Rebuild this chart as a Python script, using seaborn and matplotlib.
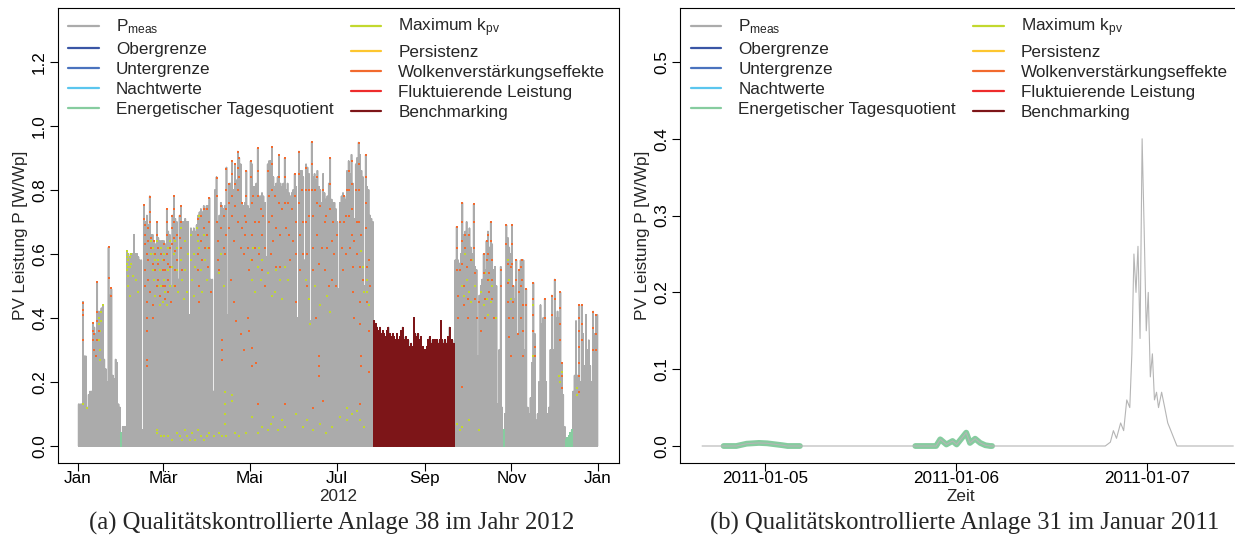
import numpy as np
import pandas as pd
import matplotlib
matplotlib.use("Agg")
import matplotlib.pyplot as plt
from matplotlib.lines import Line2D
import seaborn as sns

# ---------------------------------------------------------------------------
# (a) Anlage 38, 2012: daily maximum of the measured PV power [W/Wp]
# ---------------------------------------------------------------------------
jan = [0.13, 0.13, 0.13, 0.45, 0.28, 0.28, 0.12, 0.16, 0.17, 0.17, 0.38, 0.37, 0.35, 0.51, 0.42, 0.42,
       0.43, 0.44, 0.27, 0.24, 0.20, 0.62, 0.47, 0.49, 0.22, 0.21, 0.27, 0.26, 0.13, 0.12, 0.04]
feb = [0.06, 0.06, 0.06, 0.61, 0.60, 0.59, 0.60, 0.60, 0.66, 0.60, 0.60, 0.59, 0.58, 0.58, 0.05,
       0.75, 0.70, 0.72, 0.69, 0.78, 0.66, 0.66, 0.64, 0.63, 0.70, 0.65, 0.64, 0.64, 0.64]
mar = [0.64, 0.63, 0.74, 0.67, 0.66, 0.50, 0.72, 0.78, 0.71, 0.70, 0.52, 0.72, 0.75, 0.70, 0.70, 0.71,
       0.70, 0.70, 0.41, 0.68, 0.67, 0.68, 0.67, 0.69, 0.72, 0.73, 0.74, 0.73, 0.75, 0.74, 0.75]
apr = [0.75, 0.775, 0.52, 0.52, 0.17, 0.80, 0.84, 0.70, 0.72, 0.76, 0.75, 0.74, 0.75, 0.87, 0.41,
       0.82, 0.82, 0.89, 0.80, 0.88, 0.83, 0.92, 0.90, 0.88, 0.76, 0.75, 0.76, 0.86, 0.75, 0.74]
mai = [0.89, 0.88, 0.81, 0.81, 0.82, 0.93, 0.78, 0.78, 0.79, 0.78, 0.76, 0.59, 0.88, 0.89, 0.89, 0.935,
       0.84, 0.81, 0.82, 0.84, 0.91, 0.82, 0.81, 0.82, 0.90, 0.80, 0.82, 0.79, 0.78, 0.79, 0.80]
jun = [0.85, 0.81, 0.40, 0.92, 0.86, 0.86, 0.84, 0.58, 0.88, 0.87, 0.85, 0.39, 0.95, 0.84, 0.85,
       0.83, 0.86, 0.81, 0.80, 0.76, 0.85, 0.79, 0.77, 0.78, 0.82, 0.90, 0.77, 0.76, 0.76, 0.74]
jul = [0.70, 0.49, 0.76, 0.78, 0.79, 0.78, 0.77, 0.86, 0.89, 0.85, 0.91, 0.82, 0.71, 0.88, 0.90, 0.948,
       0.91, 0.86, 0.84, 0.50, 0.91, 0.81, 0.80, 0.72, 0.71, 0.70, 0.39, 0.38, 0.37, 0.36, 0.37]
aug = [0.35, 0.36, 0.35, 0.34, 0.36, 0.37, 0.35, 0.34, 0.35, 0.34, 0.33, 0.35, 0.33, 0.34, 0.36, 0.37,
       0.33, 0.34, 0.32, 0.33, 0.31, 0.32, 0.31, 0.40, 0.35, 0.34, 0.35, 0.33, 0.34, 0.31, 0.30]
sep = [0.30, 0.31, 0.33, 0.34, 0.32, 0.33, 0.32, 0.33, 0.33, 0.32, 0.33, 0.39, 0.33, 0.32, 0.33,
       0.32, 0.34, 0.37, 0.33, 0.33, 0.32, 0.58, 0.685, 0.58, 0.57, 0.60, 0.76, 0.66, 0.67, 0.70]
okt = [0.66, 0.68, 0.62, 0.60, 0.755, 0.56, 0.55, 0.28, 0.47, 0.50, 0.52, 0.60, 0.55, 0.64, 0.67, 0.62,
       0.70, 0.63, 0.55, 0.56, 0.50, 0.13, 0.30, 0.56, 0.12, 0.05, 0.10, 0.69, 0.65, 0.62, 0.60]
nov = [0.69, 0.50, 0.46, 0.58, 0.35, 0.55, 0.58, 0.58, 0.58, 0.30, 0.49, 0.12, 0.10, 0.15, 0.26,
       0.51, 0.35, 0.08, 0.10, 0.20, 0.44, 0.38, 0.40, 0.46, 0.20, 0.10, 0.12, 0.30, 0.47, 0.30]
dez = [0.52, 0.40, 0.42, 0.40, 0.48, 0.26, 0.16, 0.06, 0.02, 0.025, 0.03, 0.04, 0.05, 0.17, 0.22, 0.39,
       0.22, 0.44, 0.20, 0.44, 0.35, 0.25, 0.41, 0.30, 0.33, 0.25, 0.20, 0.42, 0.35, 0.41, 0.41]

# days (index from 1 Jan) flagged by the daily energy quotient test
tagesquotient_tage = [30, 299, 343, 344, 345, 346, 347]
# period flagged by benchmarking
benchmark_von, benchmark_bis = 208, 264

# single values flagged as cloud enhancement: (day index, value)
wolken_tag = [3, 3, 3, 3, 10, 10, 10, 11, 11, 12, 13, 13, 13, 14, 13, 21, 21, 23, 23,
              46, 46, 47, 47, 47, 48, 47, 47, 48, 48, 48, 48, 48, 49, 49, 49, 49, 50,
              50, 50, 50, 51, 51, 52, 52, 52, 53, 54, 54, 55, 55, 55, 56, 56, 56, 57, 58, 59, 59,
              60, 60, 61, 61, 61, 62, 62, 62, 62, 63, 63, 63, 64, 64, 65, 66, 66, 66, 67, 67, 67, 67,
              68, 68, 68, 69, 69, 71, 71, 72, 72, 72, 73,
              84, 84, 84, 84, 85, 85, 86, 86, 87, 88, 88, 89, 90, 90, 91, 92, 92, 92, 93,
              97, 97, 97, 98, 98, 99, 100, 100, 101, 101, 101, 102, 102, 103, 104, 104, 104, 104,
              106, 106, 106, 107, 108, 108, 108, 108, 109, 109, 110, 110, 110, 111, 112, 112, 112, 112,
              113, 113, 114, 114, 115, 115, 116, 116, 117, 117, 118, 118, 118, 119, 119, 120, 120,
              121, 121, 122, 122, 122, 122, 122, 123, 124, 124, 125, 126, 126, 126, 127, 126, 127,
              128, 129, 129, 130, 131, 131, 133, 134, 134, 135, 136, 136, 136, 136, 137, 138, 139, 139,
              141, 141, 141, 142, 142, 143, 145, 145, 145, 145, 146, 147, 148, 149, 150, 151,
              152, 152, 153, 153, 153, 155, 155, 155, 156, 156, 157, 158, 158, 160, 160, 160, 161, 161,
              162, 162, 164, 164, 164, 165, 165, 165, 165, 166, 167, 168, 168, 168, 169, 169, 169, 169,
              170, 171, 172, 172, 173, 173, 174, 175, 176, 177, 177, 177, 178, 178, 179, 180, 181,
              182, 184, 185, 186, 187, 187, 188,
              188, 189, 190, 190, 190, 191, 192, 192, 192, 192, 193, 193, 194, 194, 195, 196, 196,
              197, 197, 197, 197, 198, 198, 198, 199, 199, 198, 199, 200, 202, 202, 202, 202, 203, 203,
              204, 204, 204, 205,
              266, 266, 266, 267, 267, 268, 270, 270, 270, 270, 270, 271, 271, 272, 272, 273, 274, 274,
              275, 276, 278, 278, 278, 279, 279, 280, 282, 283, 285, 285, 286, 286, 287, 287, 288, 288,
              288, 289, 289, 290, 290, 291, 291, 291, 292, 297, 297, 301, 301, 302, 302, 302, 303, 303,
              304, 304, 305, 305, 305, 306, 306, 306, 308, 308, 309, 310, 310, 311, 311, 311, 312, 312,
              313, 313, 313,
              315, 315, 320, 320, 320, 320, 321, 321, 328, 328, 333, 333, 335, 335, 339, 339, 339, 339,
              340, 340, 340, 352, 352, 352, 352, 352, 352, 352, 354, 354, 354, 362, 362, 362, 364, 364, 364]
wolken_wert = [0.446, 0.425, 0.41, 0.33, 0.383, 0.36, 0.33, 0.30, 0.35, 0.28, 0.514, 0.42, 0.39, 0.36,
               0.33, 0.621, 0.524, 0.493, 0.47,
               0.753, 0.71, 0.69, 0.66, 0.63, 0.60, 0.55, 0.50, 0.45, 0.40, 0.36, 0.27, 0.25,
               0.68, 0.64, 0.58, 0.52, 0.48,
               0.777, 0.73, 0.70, 0.65, 0.62, 0.57, 0.44, 0.40, 0.64, 0.60, 0.55, 0.50, 0.70, 0.66,
               0.62, 0.57, 0.52, 0.47, 0.60, 0.55, 0.50,
               0.63, 0.58, 0.55, 0.50, 0.46, 0.74, 0.70, 0.66, 0.60, 0.57, 0.52, 0.48, 0.62, 0.56,
               0.45, 0.72, 0.68, 0.63, 0.78, 0.74, 0.70, 0.65, 0.61, 0.55, 0.50, 0.66, 0.58, 0.72,
               0.65, 0.75, 0.70, 0.62, 0.55,
               0.71, 0.66, 0.60, 0.55, 0.50, 0.45, 0.72, 0.64, 0.58, 0.74, 0.68, 0.62, 0.74, 0.66,
               0.56, 0.775, 0.70, 0.62, 0.48,
               0.837, 0.78, 0.70, 0.64, 0.58, 0.55, 0.75, 0.68, 0.33, 0.30, 0.27, 0.72, 0.62, 0.60,
               0.867, 0.80, 0.74, 0.66,
               0.82, 0.76, 0.68, 0.52, 0.89, 0.85, 0.78, 0.72, 0.64, 0.45, 0.88, 0.82, 0.75, 0.39,
               0.92, 0.87, 0.80, 0.70,
               0.90, 0.84, 0.62, 0.35, 0.76, 0.68, 0.60, 0.30, 0.72, 0.66, 0.86, 0.78, 0.70, 0.62,
               0.40, 0.55, 0.36,
               0.89, 0.84, 0.76, 0.66, 0.58, 0.305, 0.25, 0.78, 0.70, 0.62, 0.26, 0.93, 0.86, 0.78,
               0.70, 0.13, 0.60,
               0.74, 0.66, 0.55, 0.72, 0.62, 0.50, 0.86, 0.78, 0.70, 0.60, 0.935, 0.88, 0.80, 0.72,
               0.64, 0.78, 0.68, 0.56,
               0.91, 0.84, 0.76, 0.66, 0.56, 0.74, 0.90, 0.84, 0.76, 0.13, 0.68, 0.76, 0.66, 0.58,
               0.74, 0.64,
               0.85, 0.78, 0.70, 0.60, 0.45, 0.92, 0.85, 0.76, 0.66, 0.55, 0.80, 0.70, 0.60, 0.87,
               0.80, 0.70, 0.60, 0.50,
               0.80, 0.72, 0.951, 0.88, 0.80, 0.72, 0.62, 0.55, 0.12, 0.80, 0.40, 0.84, 0.76, 0.66,
               0.28, 0.25, 0.57, 0.22,
               0.75, 0.62, 0.14, 0.80, 0.70, 0.55, 0.72, 0.62, 0.50, 0.90, 0.82, 0.74, 0.64, 0.52,
               0.70, 0.60, 0.50,
               0.66, 0.70, 0.62, 0.55, 0.78, 0.70, 0.60,
               0.72, 0.80, 0.86, 0.80, 0.72, 0.62, 0.89, 0.82, 0.74, 0.66, 0.56, 0.48, 0.40, 0.64,
               0.80, 0.70, 0.60,
               0.948, 0.88, 0.80, 0.70, 0.56, 0.45, 0.38, 0.28, 0.25, 0.13, 0.66, 0.52, 0.91, 0.84,
               0.76, 0.68, 0.56, 0.45,
               0.36, 0.23, 0.58, 0.50,
               0.685, 0.62, 0.55, 0.47, 0.40, 0.55, 0.76, 0.70, 0.64, 0.57, 0.185, 0.50, 0.44, 0.66,
               0.62, 0.56, 0.46, 0.40,
               0.66, 0.58, 0.755, 0.70, 0.62, 0.54, 0.46, 0.40, 0.45, 0.36, 0.60, 0.54, 0.46, 0.40,
               0.64, 0.58, 0.52, 0.66,
               0.60, 0.54, 0.48, 0.70, 0.64, 0.58, 0.52, 0.46, 0.40, 0.55, 0.50, 0.69, 0.63, 0.57,
               0.51, 0.45, 0.40, 0.34,
               0.28, 0.56, 0.69, 0.63, 0.57, 0.50, 0.45, 0.40, 0.58, 0.52, 0.35, 0.55, 0.48, 0.40,
               0.56, 0.50, 0.58, 0.52,
               0.44, 0.36, 0.28,
               0.49, 0.44, 0.51, 0.46, 0.41, 0.36, 0.31, 0.28, 0.46, 0.40, 0.47, 0.41, 0.52, 0.46,
               0.48, 0.43, 0.38, 0.33,
               0.26, 0.22, 0.18, 0.44, 0.40, 0.36, 0.31, 0.26, 0.22, 0.17, 0.44, 0.38, 0.33, 0.42,
               0.37, 0.30, 0.41, 0.35, 0.30]

# single values flagged by the maximum k_pv test: (day index, value)
kpv_tag = [3, 6, 14, 14, 15, 14, 15, 15, 17, 16, 16,
           34, 34, 34, 34, 35, 35, 35, 35, 35, 36, 36, 36, 37, 37, 38, 40, 42, 51, 51, 52, 52, 53,
           53, 54, 54, 55, 56, 56, 57, 57, 58, 58, 59, 59, 55, 55, 58,
           60, 60, 61, 62, 63, 63, 64, 64, 65, 66, 67, 67, 68, 69, 69, 70, 72, 72, 73, 74, 75, 75,
           76, 77, 79, 79, 80, 81, 81, 82, 83, 84, 85, 85, 86, 87, 88, 89, 90, 91,
           60, 63, 66, 69, 71, 73, 75, 76, 78, 80, 82, 84, 86, 88, 90, 92, 95, 99, 101, 104, 110,
           113, 118,
           99, 100, 102, 103, 103, 103, 103, 108, 108,
           121, 122, 123, 124, 126, 127, 128, 129, 131, 133, 135, 136, 138, 139, 142, 143, 145, 147,
           122, 126, 129, 133, 135, 137, 140, 143, 145, 153, 158, 161, 165, 170, 174, 178, 184,
           160, 162, 163, 166, 170, 175, 177,
           199, 200, 201, 203, 203, 204, 189, 189, 192, 196, 198, 201,
           268, 270, 271, 272, 273, 275, 276, 277, 279, 283, 285, 286, 287, 288, 289, 290, 291,
           294, 302, 303, 304,
           266, 268, 270, 275, 282,
           320, 320, 338, 339, 340, 351, 351]
kpv_wert = [0.13, 0.12, 0.40, 0.38, 0.36, 0.33, 0.30, 0.27, 0.44, 0.42, 0.39,
            0.61, 0.59, 0.57, 0.55, 0.60, 0.58, 0.56, 0.53, 0.50, 0.59, 0.56, 0.47, 0.60, 0.57,
            0.53, 0.52, 0.48, 0.64, 0.60, 0.62, 0.55, 0.60, 0.52, 0.58, 0.47, 0.64, 0.58, 0.50,
            0.55, 0.44, 0.62, 0.50, 0.58, 0.45, 0.04, 0.05, 0.03,
            0.60, 0.52, 0.48, 0.44, 0.62, 0.55, 0.64, 0.50, 0.45, 0.56, 0.60, 0.50, 0.64, 0.62,
            0.55, 0.48, 0.68, 0.58, 0.52, 0.46, 0.64, 0.55, 0.48, 0.60, 0.66, 0.58, 0.52, 0.60,
            0.47, 0.56, 0.68, 0.64, 0.72, 0.62, 0.55, 0.48, 0.66, 0.58, 0.52, 0.62,
            0.03, 0.03, 0.02, 0.04, 0.03, 0.02, 0.05, 0.03, 0.02, 0.04, 0.02, 0.05, 0.03, 0.02,
            0.03, 0.04, 0.03, 0.04, 0.03, 0.03, 0.04, 0.03, 0.04,
            0.54, 0.60, 0.50, 0.17, 0.13, 0.10, 0.07, 0.16, 0.14,
            0.58, 0.52, 0.62, 0.48, 0.56, 0.62, 0.52, 0.58, 0.50, 0.54, 0.60, 0.47, 0.48, 0.55,
            0.52, 0.46, 0.56, 0.52,
            0.09, 0.04, 0.06, 0.05, 0.07, 0.09, 0.05, 0.08, 0.06, 0.10, 0.06, 0.08, 0.05, 0.07,
            0.04, 0.06, 0.09,
            0.52, 0.46, 0.38, 0.50, 0.44, 0.47, 0.42,
            0.61, 0.56, 0.48, 0.52, 0.48, 0.44, 0.12, 0.08, 0.10, 0.11, 0.08, 0.06,
            0.55, 0.50, 0.47, 0.60, 0.52, 0.48, 0.45, 0.58, 0.50, 0.48, 0.44, 0.54, 0.46, 0.41,
            0.52, 0.45, 0.50, 0.40, 0.58, 0.52, 0.46,
            0.07, 0.05, 0.06, 0.08, 0.05,
            0.44, 0.28, 0.22, 0.20, 0.23, 0.18, 0.16]

# ---------------------------------------------------------------------------
# (b) Anlage 31, January 2011: measured power, hours after 2011-01-05 00:00
# ---------------------------------------------------------------------------
zeit_h = [-7.87, -5.17, -3.57, -2.28, -0.73, 0.30, 2.23, 2.87, 4.42,
          18.92, 21.53, 22.05, 22.82, 23.59, 24.11, 25.31, 25.78, 26.43, 27.07, 27.71, 28.32, 28.56,
          42.78, 43.42, 43.80, 44.19, 44.71, 45.09, 45.48, 45.86, 46.12, 46.38, 46.64, 46.89,
          47.15, 47.41, 47.67, 47.93, 48.18, 48.44, 48.70, 48.96, 49.22, 49.47, 49.86, 50.25,
          50.63, 51.02, 51.40, 51.79, 58.87]
leistung = [0.0, 0.0, 0.0, 0.003, 0.004, 0.0035, 0.001, 0.0, 0.0,
            0.0, 0.0, 0.0087, 0.002, 0.0065, 0.002, 0.0174, 0.004, 0.0095, 0.004, 0.001, 0.0, 0.0,
            0.0, 0.005, 0.02, 0.01, 0.03, 0.02, 0.06, 0.05, 0.12, 0.25, 0.20, 0.26,
            0.14, 0.40, 0.28, 0.15, 0.20, 0.09, 0.12, 0.06, 0.07, 0.05, 0.07, 0.05,
            0.03, 0.02, 0.01, 0.0, 0.0]
# windows (hours) flagged by the daily energy quotient test
tq_fenster = [(-5.2, 4.5), (18.9, 28.6)]

# ---------------------------------------------------------------------------
legende = ["$P_{meas}$", "Obergrenze", "Untergrenze", "Nachtwerte", "Energetischer Tagesquotient",
           "Maximum $k_{pv}$", "Persistenz", "Wolkenverstärkungseffekte", "Fluktuierende Leistung",
           "Benchmarking"]
farben = ["#ABABAB", "#3A56A5", "#4A73BE", "#5BC6EE", "#86CC9F",
          "#C2D82E", "#FDC62F", "#F26A2E", "#EE2C2C", "#7D1518"]
GRAU, TQ, KPV, WOLKE, BENCH = farben[0], farben[4], farben[5], farben[7], farben[9]

sns.set_theme(style="white")
plt.rcParams["font.family"] = ["Liberation Sans", "DejaVu Sans"]
plt.rcParams["mathtext.default"] = "regular"
FS = 12.3

W, H = 1235, 545
fig = plt.figure(figsize=(W / 100, H / 100), dpi=100)
ax1 = fig.add_axes([57.5 / W, 82 / H, 561 / W, 455 / H])
ax2 = fig.add_axes([680 / W, 82 / H, 561 / W, 455 / H])

start12 = pd.Timestamp("2012-01-01")
tagesmax = np.array(jan + feb + mar + apr + mai + jun + jul + aug + sep + okt + nov + dez)


def tagesstriche(idx):
    """One vertical stroke 0 -> daily maximum -> 0 per day."""
    idx = np.asarray(idx)
    t = start12 + pd.to_timedelta(np.repeat(idx + 0.5, 3), unit="D")
    y = np.column_stack([np.zeros(len(idx)), tagesmax[idx], np.zeros(len(idx))]).ravel()
    return pd.DataFrame({"zeit": t, "p": y, "tag": np.repeat(idx, 3)})


alle = tagesstriche(np.arange(len(tagesmax)))
sns.lineplot(data=alle, x="zeit", y="p", estimator=None, sort=False, color=GRAU,
             lw=1.2, ax=ax1, legend=False)
bench = tagesstriche(np.arange(benchmark_von, benchmark_bis + 1))
sns.lineplot(data=bench, x="zeit", y="p", units="tag", estimator=None, sort=False,
             color=BENCH, lw=1.2, ax=ax1, legend=False)
tq = tagesstriche(tagesquotient_tage)
sns.lineplot(data=tq, x="zeit", y="p", units="tag", estimator=None, sort=False,
             color=TQ, lw=1.4, ax=ax1, legend=False)

punkte_k = pd.DataFrame({"zeit": start12 + pd.to_timedelta(np.array(kpv_tag) + 0.5, unit="D"),
                         "p": kpv_wert})
punkte_w = pd.DataFrame({"zeit": start12 + pd.to_timedelta(np.array(wolken_tag) + 0.5, unit="D"),
                         "p": wolken_wert})
sns.scatterplot(data=punkte_k, x="zeit", y="p", marker="s", s=4, color=KPV, linewidth=0,
                ax=ax1, legend=False, zorder=4)
sns.scatterplot(data=punkte_w, x="zeit", y="p", marker="s", s=4, color=WOLKE, linewidth=0,
                ax=ax1, legend=False, zorder=5)

ax1.set_xlim(start12 + pd.Timedelta(days=-14.43), start12 + pd.Timedelta(days=380.4))
ax1.set_ylim(-17 / 320, 438 / 320)
monate = ["2012-01-01", "2012-03-01", "2012-05-01", "2012-07-01", "2012-09-01", "2012-11-01",
          "2013-01-01"]
ax1.set_xticks([pd.Timestamp(m) for m in monate])
ax1.set_xticklabels(["Jan", "Mär", "Mai", "Jul", "Sep", "Nov", "Jan"])
ticks1 = [0.0, 0.2, 0.4, 0.6, 0.8, 1.0, 1.2]
ax1.set_yticks(ticks1)
ax1.set_yticklabels([f"{v:.1f}" for v in ticks1], rotation=90, va="center")
ax1.set_xlabel("2012", fontsize=FS, labelpad=2)

# ---------------------------------------------------------------------------
start11 = pd.Timestamp("2011-01-05")
reihe = pd.DataFrame({"zeit": start11 + pd.to_timedelta(zeit_h, unit="h"), "p": leistung,
                      "h": zeit_h})
teile = []
for i, (a, b) in enumerate(tq_fenster):
    s = reihe[(reihe.h >= a) & (reihe.h <= b)].copy()
    s["fenster"] = i
    teile.append(s)
tq_b = pd.concat(teile)
sns.lineplot(data=tq_b, x="zeit", y="p", units="fenster", estimator=None, sort=False,
             color=TQ, lw=4.2, ax=ax2, legend=False, solid_capstyle="round")
sns.lineplot(data=reihe, x="zeit", y="p", estimator=None, sort=False, color="#B5B5B5",
             lw=0.8, ax=ax2, legend=False)

ax2.set_xlim(start11 + pd.Timedelta(days=-0.4436), start11 + pd.Timedelta(days=2.493))
ax2.set_ylim(-17 / 768, 438 / 768)
tage_b = ["2011-01-05", "2011-01-06", "2011-01-07"]
ax2.set_xticks([pd.Timestamp(t) for t in tage_b])
ax2.set_xticklabels(tage_b)
ticks2 = [0.0, 0.1, 0.2, 0.3, 0.4, 0.5]
ax2.set_yticks(ticks2)
ax2.set_yticklabels([f"{v:.1f}" for v in ticks2], rotation=90, va="center")
ax2.set_xlabel("Zeit", fontsize=FS, labelpad=2)

griffe = [Line2D([], [], color=c, lw=1.6) for c in farben]
for ax in (ax1, ax2):
    ax.set_ylabel("PV Leistung P [W/Wp]", fontsize=FS, labelpad=3)
    ax.tick_params(axis="both", which="major", direction="out", length=5.5, width=0.8,
                   labelsize=FS, pad=2, colors="black", bottom=True, left=True)
    ax.tick_params(axis="x", pad=0.5)
    for sp in ax.spines.values():
        sp.set_color("black")
        sp.set_linewidth(0.8)
    ax.grid(False)
    ax.legend(griffe, legende, ncol=2, loc="upper left", bbox_to_anchor=(10.5 / 561, 0.981),
              frameon=False, fontsize=FS, handlelength=1.8, handletextpad=1.0,
              columnspacing=1.0, labelspacing=0.31, borderpad=0, borderaxespad=0)

fig.text(331.5 / W, 1 - 523 / H, "(a) Qualitätskontrollierte Anlage 38 im Jahr 2012",
         family="Liberation Serif", fontsize=17.7, ha="center", va="center")
fig.text(964.5 / W, 1 - 523 / H, "(b) Qualitätskontrollierte Anlage 31 im Januar 2011",
         family="Liberation Serif", fontsize=17.7, ha="center", va="center")

fig.savefig("out.png", dpi=100)
